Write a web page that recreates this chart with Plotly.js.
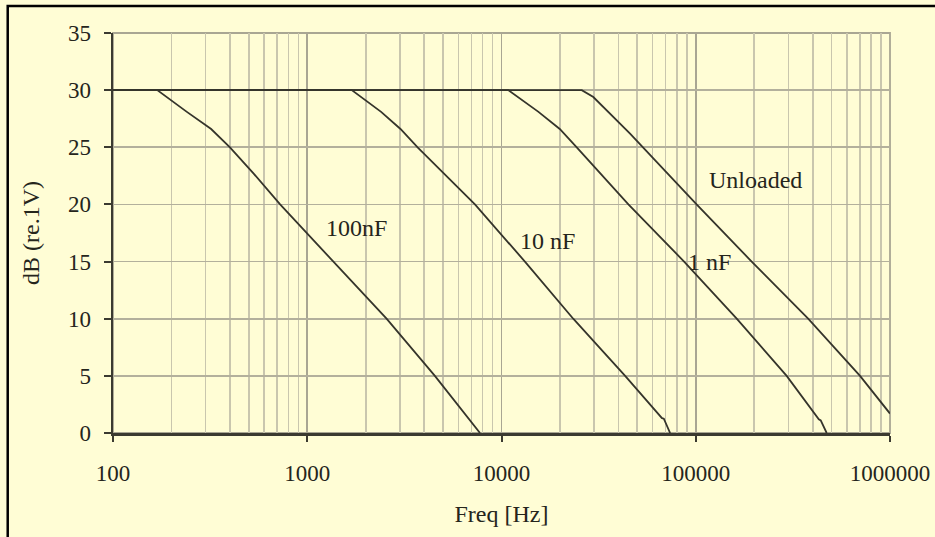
<!DOCTYPE html>
<html>
<head>
<meta charset="utf-8">
<script src="https://cdn.plot.ly/plotly-3.0.1.min.js"></script>
<style>
  html, body { margin: 0; padding: 0; background: #FFFDD5; }
  #chart { width: 935px; height: 537px; }
</style>
</head>
<body>
<div id="chart"></div>
<script>
// Frequency (Hz) and level (dB re 1V)
const freq100nF = [100, 169, 240, 320, 400, 530, 725, 1360, 2560, 4540, 7750];
const db100nF   = [30, 30, 28.1, 26.6, 25, 22.7, 20, 15, 10, 5, 0];

const freq10nF = [100, 1695, 2400, 3020, 3700, 5130, 7300, 13200, 23400, 43300, 67000, 68500, 73800];
const db10nF   = [30, 30, 28.1, 26.6, 25, 22.6, 20, 15, 10, 5, 1.3, 1.25, 0];

const freq1nF = [100, 10840, 15500, 19950, 24400, 33100, 45000, 87100, 162500, 293800, 430000, 440000, 472000];
const db1nF   = [30, 30, 28.1, 26.6, 25, 22.5, 20, 15, 10, 5, 1.2, 1.1, 0];

const freqUnloaded = [100, 25900, 29700, 45900, 101000, 194000, 379000, 701000, 1000000];
const dbUnloaded   = [30, 30, 29.4, 26.2, 20, 15, 10, 5, 1.7];

const xTickVals = [100, 1000, 10000, 100000, 1000000];
const xTickText = ['100', '1000', '10000', '100000', '1000000'];
const yTickVals = [0, 5, 10, 15, 20, 25, 30, 35];

const curveLabels = ['100nF', '10 nF', '1 nF', 'Unloaded'];

// minor gridlines 2..9 within each decade
const minorVals = [];
for (let d = 100; d < 1000000; d *= 10) {
  for (let m = 2; m <= 9; m++) minorVals.push(d * m);
}

const lineStyle = { color: '#35342b', width: 1.8 };
const traces = [
  { x: freq100nF, y: db100nF, name: curveLabels[0] },
  { x: freq10nF, y: db10nF, name: curveLabels[1] },
  { x: freq1nF, y: db1nF, name: curveLabels[2] },
  { x: freqUnloaded, y: dbUnloaded, name: curveLabels[3] }
].map(t => Object.assign(t, { type: 'scatter', mode: 'lines', line: lineStyle, hoverinfo: 'x+y' }));

const serif = 'Liberation Serif, Times New Roman, serif';
const tickFont = { family: serif, size: 23, color: '#25251c' };
const titleFont = { family: serif, size: 24, color: '#25251c' };
const labelFont = { family: serif, size: 24, color: '#25251c' };

const layout = {
  width: 935, height: 537,
  paper_bgcolor: '#FFFDD5',
  plot_bgcolor: '#FFFDD5',
  showlegend: false,
  margin: { l: 113, r: 45, t: 33, b: 104 },
  font: { family: serif, size: 23, color: '#25251c' },
  xaxis: {
    type: 'log',
    range: [2, 6],
    tickmode: 'array',
    tickvals: xTickVals,
    ticktext: xTickText,
    ticks: 'outside',
    ticklen: 6,
    tickwidth: 2,
    tickcolor: '#3b3a30',
    ticklabelstandoff: 12,
    showline: true,
    linecolor: '#3b3a30',
    linewidth: 2.5,
    showgrid: true,
    gridcolor: '#A9A693',
    gridwidth: 1.6,
    zeroline: false,
    minor: { tickmode: 'array', tickvals: minorVals, showgrid: true, gridcolor: '#C9C6AE', gridwidth: 1.6, ticks: '' },
    tickfont: tickFont,
    title: { text: 'Freq [Hz]', font: titleFont, standoff: 20 }
  },
  yaxis: {
    range: [0, 35],
    tickmode: 'array',
    tickvals: yTickVals,
    ticks: 'outside',
    ticklen: 7,
    tickwidth: 2,
    tickcolor: '#3b3a30',
    ticklabelstandoff: 8,
    showline: true,
    linecolor: '#3b3a30',
    linewidth: 2.5,
    showgrid: true,
    gridcolor: '#B3B09C',
    gridwidth: 1.8,
    zeroline: false,
    tickfont: tickFont,
    title: { text: 'dB (re.1V)', font: titleFont, standoff: 22 }
  },
  shapes: [
    { type: 'rect', xref: 'paper', yref: 'paper', x0: 0, x1: 1, y0: 0, y1: 1,
      line: { color: '#A9A693', width: 1.8 }, layer: 'below' },
    { type: 'rect', xref: 'paper', yref: 'paper', x0: -0.1355, x1: 1.3, y0: -0.5, y1: 1.0675,
      line: { color: '#000000', width: 2.5 }, layer: 'above' }
  ],
  annotations: [
    { x: 3.256, y: 17.9, xref: 'x', yref: 'y', text: curveLabels[0], showarrow: false, font: labelFont },
    { x: 4.239, y: 16.8, xref: 'x', yref: 'y', text: curveLabels[1], showarrow: false, font: labelFont },
    { x: 5.073, y: 15.0, xref: 'x', yref: 'y', text: curveLabels[2], showarrow: false, font: labelFont },
    { x: 5.305, y: 22.1, xref: 'x', yref: 'y', text: curveLabels[3], showarrow: false, font: labelFont }
  ]
};

Plotly.newPlot('chart', traces, layout, { staticPlot: true, displayModeBar: false });
</script>
</body>
</html>
